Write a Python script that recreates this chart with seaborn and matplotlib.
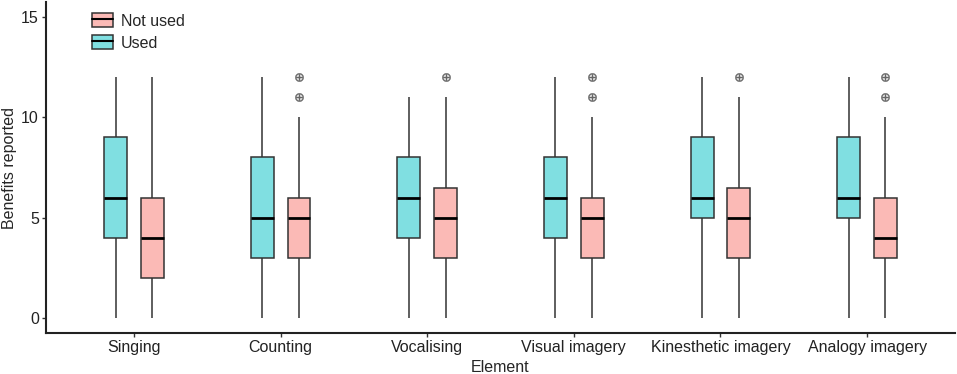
import numpy as np
import pandas as pd
import seaborn as sns
from matplotlib import pyplot as plt
from matplotlib.patches import Patch
from matplotlib.lines import Line2D
from matplotlib.legend_handler import HandlerTuple

elements = ["Singing", "Counting", "Vocalising", "Visual imagery",
            "Kinesthetic imagery", "Analogy imagery"]

# five-number summaries: (low whisker, Q1, median, Q3, high whisker)
used_stats = [(0, 4, 6, 9, 12), (0, 3, 5, 8, 12), (0, 4, 6, 8, 11),
              (0, 4, 6, 8, 12), (0, 5, 6, 9, 12), (0, 5, 6, 9, 12)]
notused_stats = [(0, 2, 4, 6, 12), (0, 3, 5, 6, 10), (0, 3, 5, 6.5, 11),
                 (0, 3, 5, 6, 10), (0, 3, 5, 6.5, 11), (0, 3, 4, 6, 10)]
used_outliers = [[], [], [], [], [], []]
notused_outliers = [[], [11, 12], [12], [11, 12], [12], [11, 12]]


def sample(st, outl):
    # 13 values whose quartiles fall exactly on the summary
    lo, q1, med, q3, hi = st
    tail = [hi] * (3 - len(outl)) + list(outl)
    return [lo] + [q1] * 5 + [med] * 3 + [q3] + tail


rows = []
for i, el in enumerate(elements):
    for v in sample(used_stats[i], used_outliers[i]):
        rows.append((el, "Used", v))
    for v in sample(notused_stats[i], notused_outliers[i]):
        rows.append((el, "Not used", v))
df = pd.DataFrame(rows, columns=["Element", "Use", "Benefits"])

sns.set_style("white")
plt.rcParams['font.family'] = ['Liberation Sans', 'DejaVu Sans']

pal = {"Used": "#80DFE1", "Not used": "#FBBAB6"}

fig = plt.figure(figsize=(9.57, 3.74), dpi=100)
ax = fig.add_axes([0.048, 0.1096, 0.950, 0.885])

sns.boxplot(data=df, x="Element", y="Benefits", hue="Use", order=elements,
            hue_order=["Used", "Not used"], palette=pal, saturation=1,
            width=0.5, gap=0.38, whis=1.5, showcaps=False,
            linecolor="#333333", linewidth=1.1,
            medianprops=dict(color="black", linewidth=2),
            flierprops=dict(marker=r"$\oplus$", markersize=6,
                            markeredgecolor="#666666", markerfacecolor="#666666",
                            markeredgewidth=0.3),
            legend=False, ax=ax)

ax.set_xlim(-0.6, 5.6)
ax.set_ylim(-0.75, 15.75)
ax.set_yticks([0, 5, 10, 15])
sns.despine(ax=ax)
for s in ["left", "bottom"]:
    ax.spines[s].set_linewidth(1.5)
    ax.spines[s].set_color("#222222")
ax.tick_params(axis="both", length=3, width=1, color="#333333", labelsize=11.5,
               labelcolor="#222222", direction="out", bottom=True, left=True, pad=2)
ax.set_xlabel("Element", fontsize=11.5)
ax.set_ylabel("Benefits reported", fontsize=11.5)
ax.xaxis.set_label_coords(0.5, -0.083)
ax.yaxis.set_label_coords(-0.032, 0.5)

handles = [(Patch(facecolor=pal[k], edgecolor="#333333", linewidth=1.1),
            Line2D([], [], color="black", linewidth=1.5)) for k in ["Not used", "Used"]]
ax.legend(handles, ["Not used", "Used"], handler_map={tuple: HandlerTuple(ndivide=1)},
          loc="upper left", bbox_to_anchor=(0.035, 1.01), frameon=False, fontsize=11.5,
          handlelength=1.3, handleheight=1.0, handletextpad=0.5, labelspacing=0.4)

fig.savefig("out.png", dpi=100)
